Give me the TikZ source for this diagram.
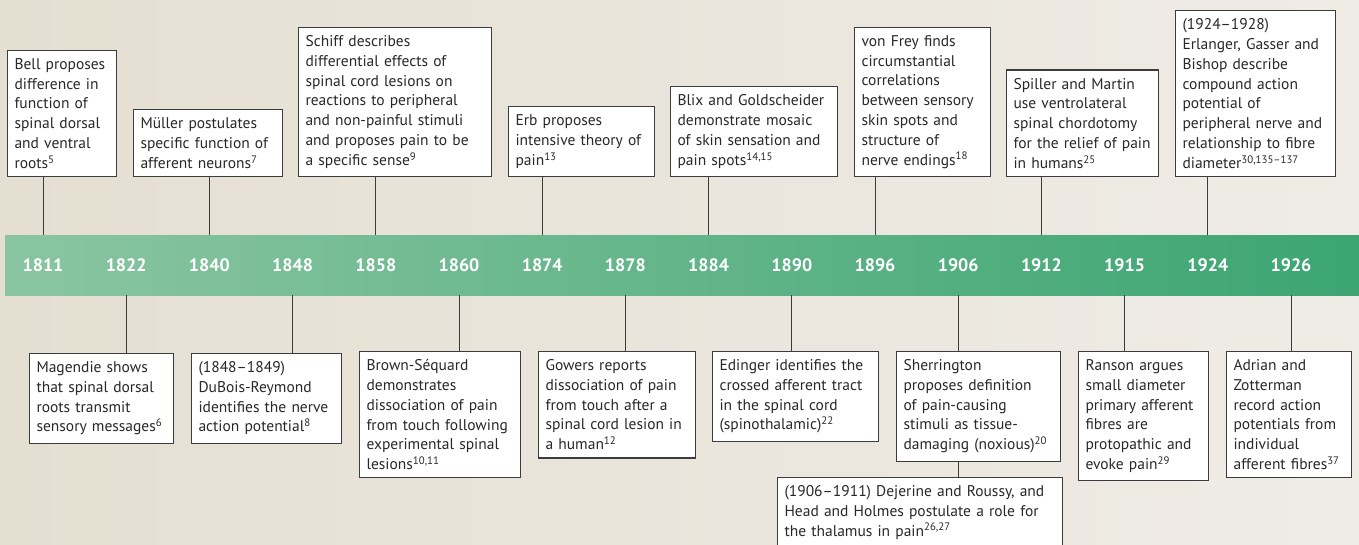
\documentclass[tikz,border=0pt]{standalone}
\usepackage{fontspec}
\setmainfont{PT Sans}
\usepackage{tikz}
\usetikzlibrary{positioning}
\usetikzlibrary{calc}
\definecolor{bgL}{RGB}{229,223,210}
\definecolor{bgR}{RGB}{239,236,230}
\definecolor{barL}{RGB}{138,197,161}
\definecolor{barR}{RGB}{60,165,114}
\definecolor{edge}{RGB}{60,60,60}
\definecolor{ink}{RGB}{40,40,40}
\newcommand\sref[1]{\textsuperscript{#1}}
\tikzset{
	event/.style={draw=edge, fill=white, text=ink, line width=1.1pt, inner xsep=7pt, inner ysep=8pt,
		align=left, font=\fontsize{15.5}{19.8}\selectfont},
	year/.style={text=white, font=\fontsize{18}{20}\selectfont\bfseries,
		minimum height=60pt, inner sep=0pt},
}

\begin{document}
\begin{tikzpicture}[x=1pt, y=-1pt,
	link/.style={draw=edge, line width=0.9pt}]
	
	% background and time bar
	\shade[left color=bgL, right color=bgR] (0,0) rectangle (1359,544);
	\useasboundingbox (0,0) rectangle (1359,544);
	\shade[left color=barL, right color=barR] (5,235) rectangle (1359,295);
	
	% years
	\foreach \yr [count=\i from 0] in {1811,1822,1840,1848,1858,1860,1874,1878,
		1884,1890,1896,1906,1912,1915,1924,1926}
	\node[year] (Y\yr) at (43+83.2*\i, 265) {\yr};
	
	% events above the bar
	\node[event, text width=95pt, anchor=south west] (bell) at (7,177)
	{Bell proposes\\difference in\\function of\\spinal dorsal\\and ventral\\roots\sref{5}};
	\node[event, text width=135pt, anchor=south west] (muller) at (133,177)
	{Müller postulates\\specific function of\\afferent neurons\sref{7}};
	\node[event, text width=179pt, anchor=south west] (schiff) at (298,177)
	{Schiff describes\\differential effects of\\spinal cord lesions on\\reactions to peripheral\\and non-painful stimuli\\and proposes pain to be\\a specific sense\sref{9}};
	\node[event, text width=132pt, anchor=south west] (erb) at (508,177)
	{Erb proposes\\intensive theory of\\pain\sref{13}};
	\node[event, text width=153pt, anchor=south west] (blix) at (670,177)
	{Blix and Goldscheider\\demonstrate mosaic\\of skin sensation and\\pain spots\sref{14,15}};
	\node[event, text width=122pt, anchor=south west] (frey) at (854,177)
	{von Frey finds\\circumstantial\\correlations\\between sensory\\skin spots and\\structure of\\nerve endings\sref{18}};
	\node[event, text width=138pt, anchor=south west] (spiller) at (1006,177)
	{Spiller and Martin\\use ventrolateral\\spinal chordotomy\\for the relief of pain\\in humans\sref{25}};
	\node[event, text width=146pt, anchor=south west] (erlanger) at (1175,177)
	{(1924--1928)\\Erlanger, Gasser and\\Bishop describe\\compound action\\potential of\\peripheral nerve and\\relationship to fibre\\diameter\sref{30,135--137}};
	
	% events below the bar
	\node[event, text width=130pt, anchor=north west] (magendie) at (29,353)
	{Magendie shows\\that spinal dorsal\\roots transmit\\sensory messages\sref{6}};
	\node[event, text width=136pt, anchor=north west] (dubois) at (191,353)
	{(1848--1849)\\DuBois-Reymond\\identifies the nerve\\action potential\sref{8}};
	\node[event, text width=147pt, anchor=north west] (brown) at (359,351)
	{Brown-Séquard\\demonstrates\\dissociation of pain\\from touch following\\experimental spinal\\lesions\sref{10,11}};
	\node[event, text width=143pt, anchor=north west] (gowers) at (538,351)
	{Gowers reports\\dissociation of pain\\from touch after a\\spinal cord lesion in\\a human\sref{12}};
	\node[event, text width=152pt, anchor=north west] (edinger) at (712,351)
	{Edinger identifies the\\crossed afferent tract\\in the spinal cord\\(spinothalamic)\sref{22}};
	\node[event, text width=150pt, anchor=north west] (sherr) at (896,351)
	{Sherrington\\proposes definition\\of pain-causing\\stimuli as tissue-\\damaging (noxious)\sref{20}};
	\node[event, text width=271pt, anchor=north west] (dejerine) at (777,477)
	{(1906--1911) Dejerine and Roussy, and\\Head and Holmes postulate a role for\\the thalamus in pain\sref{26,27}};
	\node[event, text width=116pt, anchor=north west] (ranson) at (1078,351)
	{Ranson argues\\small diameter\\primary afferent\\fibres are\\protopathic and\\evoke pain\sref{29}};
	\node[event, text width=111pt, anchor=north west] (adrian) at (1226,351)
	{Adrian and\\Zotterman\\record action\\potentials from\\individual\\afferent fibres\sref{37}};
	
	% connecting lines
	\foreach \yr/\ev in {1811/bell, 1840/muller, 1858/schiff, 1874/erb,
		1884/blix, 1896/frey, 1912/spiller, 1924/erlanger}
	\draw[link] (Y\yr) -- (Y\yr |- \ev.south);
	\foreach \yr/\ev in {1822/magendie, 1848/dubois, 1860/brown, 1878/gowers,
		1890/edinger, 1906/sherr, 1915/ranson, 1926/adrian}
	\draw[link] (Y\yr) -- (Y\yr |- \ev.north);
	\draw[link] (Y1906 |- sherr.south) -- (Y1906 |- dejerine.north);
\end{tikzpicture}
\end{document}
